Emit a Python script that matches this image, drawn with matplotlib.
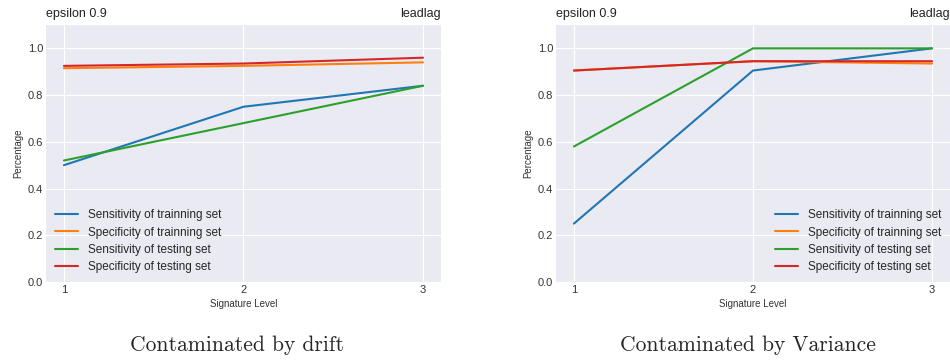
import matplotlib
matplotlib.use("Agg")
import matplotlib.pyplot as plt

plt.style.use("seaborn-v0_8-darkgrid")
plt.rcParams["font.family"] = ["Liberation Sans", "DejaVu Sans"]

levels = [1, 2, 3]
labels = ["Sensitivity of trainning set", "Specificity of trainning set",
          "Sensitivity of testing set", "Specificity of testing set"]
colors = ["#1f77b4", "#ff7f0e", "#2ca02c", "#d62728"]

# contaminated by drift
drift_sens_train = [0.50, 0.75, 0.84]
drift_spec_train = [0.915, 0.925, 0.94]
drift_sens_test = [0.52, 0.68, 0.84]
drift_spec_test = [0.925, 0.935, 0.96]

# contaminated by variance
var_sens_train = [0.25, 0.905, 1.0]
var_spec_train = [0.905, 0.945, 0.935]
var_sens_test = [0.58, 1.0, 1.0]
var_spec_test = [0.905, 0.945, 0.945]

captions = ["Contaminated by drift", "Contaminated by Variance"]


def draw(ax, series, legend_loc):
    for vals, lab, c in zip(series, labels, colors):
        ax.plot(levels, vals, color=c, lw=1.5, label=lab)
    ax.set_xlim(0.9, 3.1)
    ax.set_ylim(0, 1.1)
    ax.set_xticks(levels)
    ax.set_yticks([0, 0.2, 0.4, 0.6, 0.8, 1.0])
    ax.tick_params(labelsize=8, colors="#333333", pad=2)
    ax.set_xlabel("Signature Level", fontsize=7, color="#333333", labelpad=3)
    ax.set_ylabel("Percentage", fontsize=7, color="#333333", labelpad=3)
    ax.set_title("epsilon 0.9", loc="left", fontsize=9, color="#222222")
    ax.set_title("leadlag", loc="right", fontsize=9, color="#222222")
    ax.legend(loc=legend_loc, fontsize=8.5, frameon=False, borderaxespad=0.35,
              labelspacing=0.45, handlelength=2.0)


fig = plt.figure(figsize=(9.5, 3.6), dpi=100)
ax1 = fig.add_axes([0.0484, 0.2167, 0.4158, 0.7139])
ax2 = fig.add_axes([0.5853, 0.2167, 0.4147, 0.7139])

draw(ax1, [drift_sens_train, drift_spec_train, drift_sens_test, drift_spec_test], "lower left")
draw(ax2, [var_sens_train, var_spec_train, var_sens_test, var_spec_test], "lower right")

fig.text(0.250, 0.042, captions[0], ha="center", va="center", fontsize=15.5, family="cmr10")
fig.text(0.787, 0.042, captions[1], ha="center", va="center", fontsize=15.5, family="cmr10")

fig.savefig("out.png", dpi=100)
